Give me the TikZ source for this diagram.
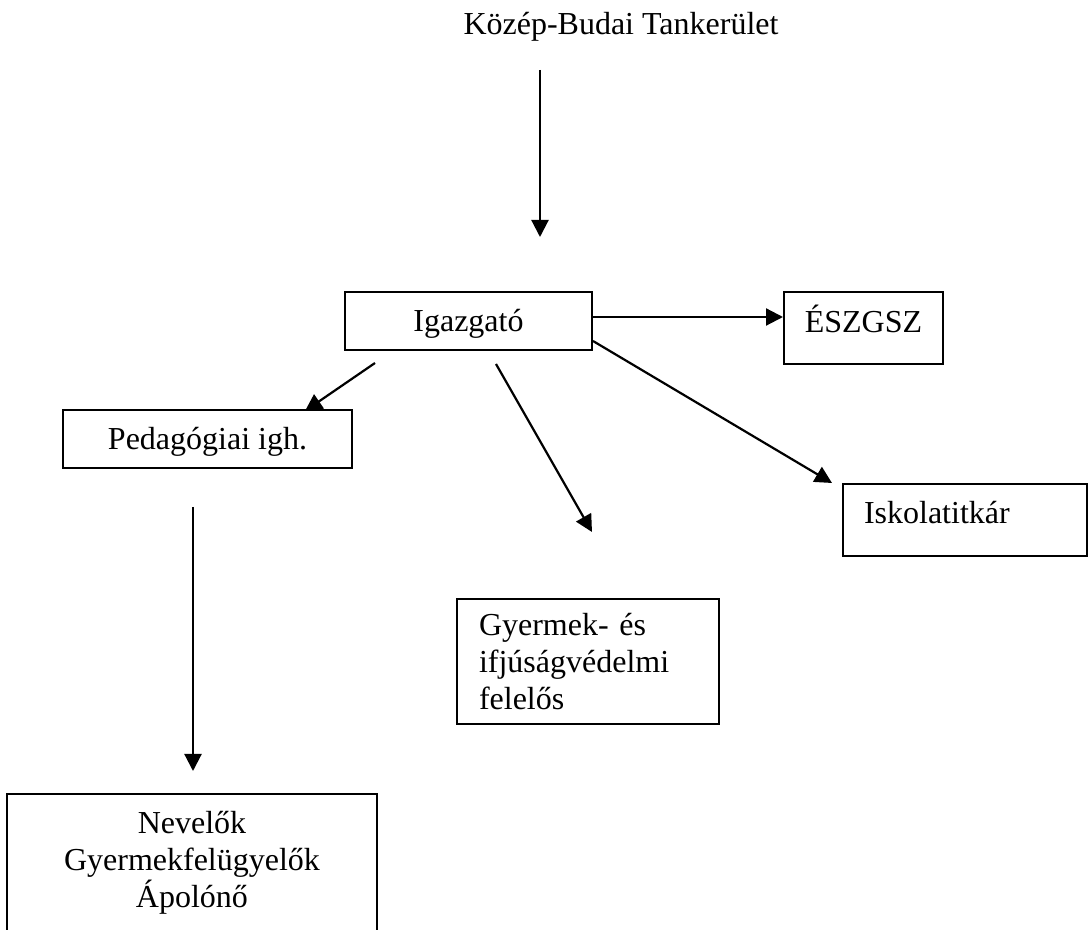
\documentclass[tikz,border=0pt]{standalone}
\usepackage{fontspec}
\setmainfont{Liberation Serif}
\usetikzlibrary{arrows.meta}

\begin{document}
\begin{tikzpicture}[x=0.5pt, y=-0.5pt,
		font=\fontsize{16}{18.5}\selectfont,
		box/.style={draw, line width=1pt, inner sep=0pt},
		oneline/.style={text height=11pt, text depth=#1},
		arr/.style={line width=1.1pt, -{Triangle[length=8.5pt, width=8.5pt]}}]
	\useasboundingbox (0,0) rectangle (1089,930);
	% boxes
	\node[anchor=base] (tk) at (621,35) {Közép-Budai Tankerület};
	\node[box, oneline=0pt, minimum width=123.5pt, minimum height=29pt] (igazgato) at (468.5,321) {Igazgató};
	\node[box, oneline=6pt, minimum width=79.5pt, minimum height=36pt] (eszgsz) at (863.5,328) {ÉSZGSZ};
	\node[box, oneline=0pt, minimum width=144.5pt, minimum height=29pt] (ped) at (207.5,439) {Pedagógiai igh.};
	\node[box, oneline=7pt, align=left, text width=101pt, inner xsep=10.5pt, minimum height=36pt] (titkar) at (965,520) {Iskolatitkár};
	\node[box, align=left, text width=109pt, inner xsep=11pt, minimum height=62.5pt] (gyv) at (588,661.5) {Gyermek- és\\ifjúságvédelmi\\felelős};
	\node[box, align=center, minimum width=185pt, minimum height=69pt] (nevelok) at (192,863) {Nevelők\\Gyermekfelügyelők\\Ápolónő};
	% arrows
	\coordinate (tk-s) at (540,70);
	\coordinate (tk-e) at (540,237);
	\coordinate (y1) at (0,317);
	\coordinate (y2) at (0,341);
	\coordinate (ped-s) at (375,363);
	\coordinate (ped-e) at (305,411);
	\coordinate (gyv-s) at (496,364);
	\coordinate (gyv-e) at (592,532);
	\coordinate (titkar-e) at (832,483);
	\coordinate (nev-s) at (193,507);
	\coordinate (nev-e) at (193,771);
	\draw[arr] (tk-s) -- (tk-e);
	\draw[arr] (igazgato.east |- y1) -- (eszgsz.west |- y1);
	\draw[arr] (ped-s) -- (ped-e);
	\draw[arr] (gyv-s) -- (gyv-e);
	\draw[arr] (igazgato.east |- y2) -- (titkar-e);
	\draw[arr] (nev-s) -- (nev-e);
\end{tikzpicture}
\end{document}
